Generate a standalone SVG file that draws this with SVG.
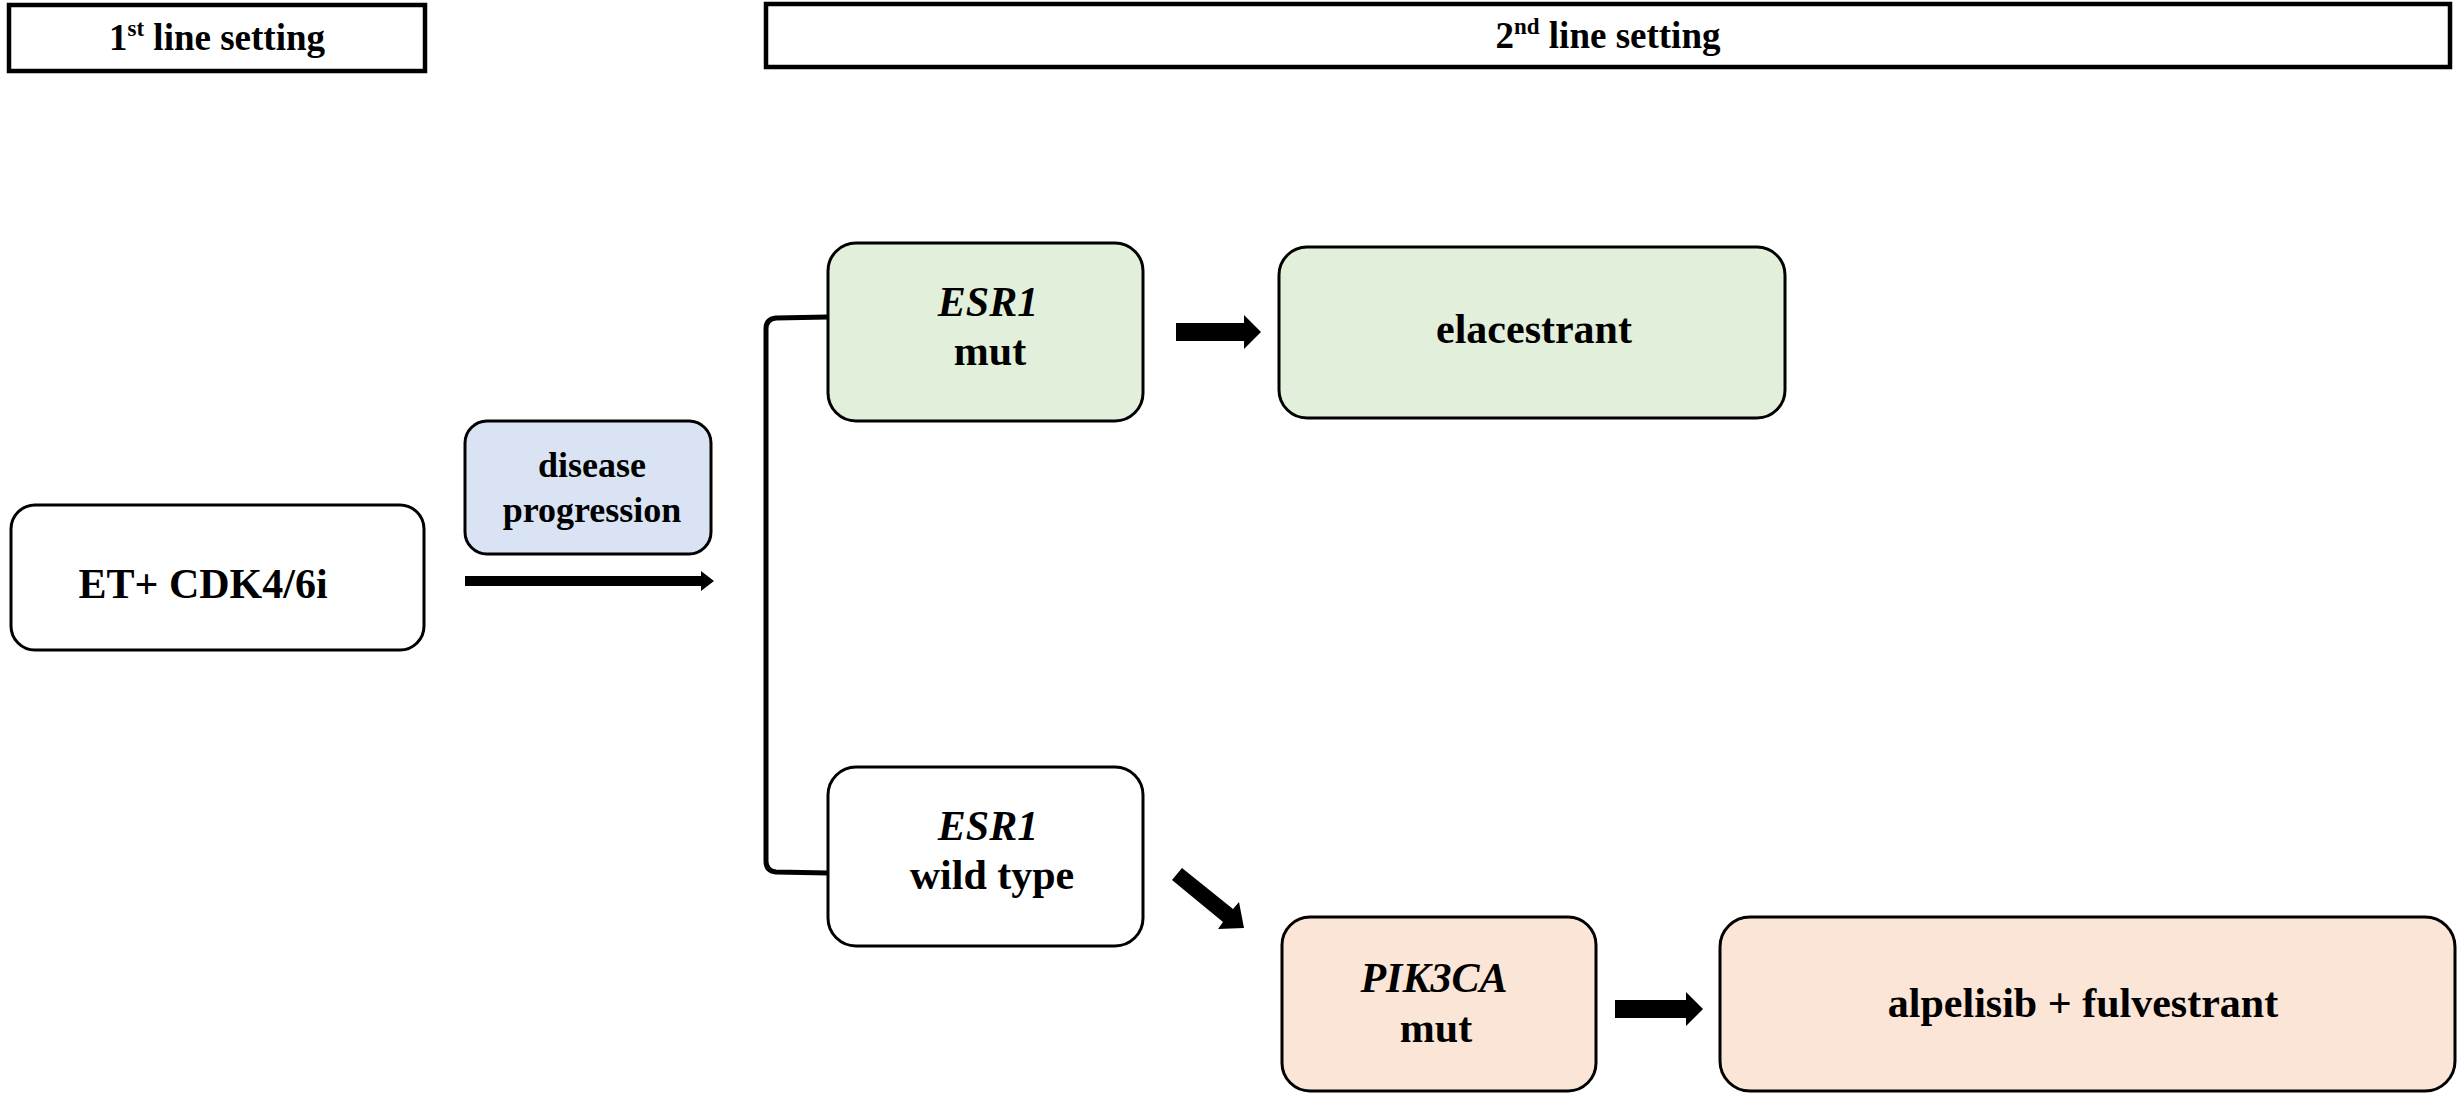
<svg xmlns="http://www.w3.org/2000/svg" width="2461" height="1093" viewBox="0 0 2461 1093">
  <style>
    .hdr { fill: #ffffff; stroke: #000000; stroke-width: 4.5; }
    .node { stroke: #000000; stroke-width: 3; }
    .white { fill: #ffffff; }
    .green { fill: #e2efda; }
    .peach { fill: #fbe5d6; }
    .blue { fill: #dae3f3; }
    text { font-family: "Liberation Serif", "Times New Roman", serif; font-weight: bold; fill: #000000; text-anchor: middle; }
    .h { font-size: 37px; }
    .t { font-size: 42px; }
    .s { font-size: 36px; }
    .it { font-style: italic; }
    .arrow { fill: #000000; }
    .bracket { fill: none; stroke: #000000; stroke-width: 5; }
  </style>

  <!-- column headers -->
  <g id="header-first-line">
    <rect class="hdr" x="9" y="5" width="416" height="66"/>
    <text class="h" x="217" y="50">1<tspan font-size="23" dy="-14">st</tspan><tspan dy="14"> line setting</tspan></text>
  </g>
  <g id="header-second-line">
    <rect class="hdr" x="766" y="4" width="1684" height="63"/>
    <text class="h" x="1608" y="48">2<tspan font-size="23" dy="-14">nd</tspan><tspan dy="14"> line setting</tspan></text>
  </g>

  <!-- nodes -->
  <g id="node-et-cdk">
    <rect class="node white" x="11" y="505" width="413" height="145" rx="24"/>
    <text class="t" x="203" y="598">ET+ CDK4/6i</text>
  </g>
  <g id="node-disease-progression">
    <rect class="node blue" x="465" y="421" width="246" height="133" rx="22"/>
    <text class="s" x="592" y="477">disease</text>
    <text class="s" x="592" y="522">progression</text>
  </g>
  <g id="node-esr1-mut">
    <rect class="node green" x="828" y="243" width="315" height="178" rx="28"/>
    <text class="t it" x="988" y="316">ESR1</text>
    <text class="t" x="990" y="365">mut</text>
  </g>
  <g id="node-elacestrant">
    <rect class="node green" x="1279" y="247" width="506" height="171" rx="28"/>
    <text class="t" x="1534" y="343">elacestrant</text>
  </g>
  <g id="node-esr1-wt">
    <rect class="node white" x="828" y="767" width="315" height="179" rx="28"/>
    <text class="t it" x="988" y="840">ESR1</text>
    <text class="t" x="992" y="889">wild type</text>
  </g>
  <g id="node-pik3ca-mut">
    <rect class="node peach" x="1282" y="917" width="314" height="174" rx="28"/>
    <text class="t it" x="1434" y="992">PIK3CA</text>
    <text class="t" x="1436" y="1042">mut</text>
  </g>
  <g id="node-alpelisib">
    <rect class="node peach" x="1720" y="917" width="735" height="174" rx="30"/>
    <text class="t" x="2083" y="1017">alpelisib + fulvestrant</text>
  </g>

  <!-- connectors -->
  <g id="connectors">
    <!-- progression arrow -->
    <polygon class="arrow" points="465,576 701,576 701,571 714,581 701,591 701,586 465,586"/>
    <!-- branch bracket -->
    <path class="bracket" d="M828,317 L776,318 Q766,319 766,329 L766,861 Q766,871 776,872 L828,873"/>
    <!-- ESR1 mut to elacestrant -->
    <polygon class="arrow" points="1176,323 1244,323 1244,315 1261,332 1244,349 1244,341 1176,341"/>
    <!-- ESR1 wild type to PIK3CA mut -->
    <polygon class="arrow" points="1172,880 1223,922 1218,929 1244,928 1239,902 1233,909 1182,868"/>
    <!-- PIK3CA mut to alpelisib + fulvestrant -->
    <polygon class="arrow" points="1615,1000 1686,1000 1686,992 1703,1009 1686,1026 1686,1018 1615,1018"/>
  </g>
</svg>
